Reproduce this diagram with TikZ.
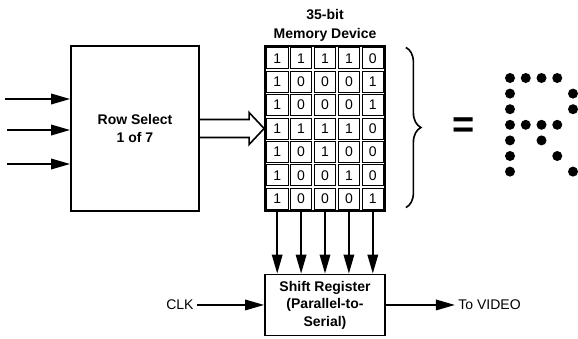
\documentclass[tikz,border=0pt]{standalone}
\usepackage{fontspec}
\setmainfont{Liberation Sans}
\usetikzlibrary{matrix,calc,positioning}
\usetikzlibrary{arrows.meta}
\usetikzlibrary{decorations.pathreplacing}

\tikzset{
	blk/.style={draw, line width=1.8pt, align=center, font=\bfseries\fontsize{14}{17.5}\selectfont},
	head/.style={align=center, font=\bfseries\fontsize{14}{19}\selectfont},
	bit/.style={draw, line width=0.9pt, minimum width=21.5pt, minimum height=21pt, inner sep=0pt, font=\fontsize{14}{14}\selectfont},
	arr/.style={-{Triangle[length=19pt,width=10.5pt]}, line width=1.8pt},
	lbl/.style={font=\fontsize{14}{17}\selectfont},
}

\begin{document}
\begin{tikzpicture}[x=1pt,y=-1pt]
\useasboundingbox (0,0) rectangle (578,338);

\node[blk, minimum width=128pt, minimum height=165pt] (rowsel) at (135,128.5) {Row Select\\1 of 7};

\matrix (mem) [matrix of nodes, nodes={bit}, column sep=1.5pt, row sep=1.5pt, draw, line width=1.8pt, inner sep=1pt] at (325,128.5)
{
	1 & 1 & 1 & 1 & 0 \\
	1 & 0 & 0 & 0 & 1 \\
	1 & 0 & 0 & 0 & 1 \\
	1 & 1 & 1 & 1 & 0 \\
	1 & 0 & 1 & 0 & 0 \\
	1 & 0 & 0 & 1 & 0 \\
	1 & 0 & 0 & 0 & 1 \\
};
\node[head, above=1pt of mem] (title) {35-bit\\Memory Device};

\node[blk, minimum width=120pt, minimum height=61pt, below=62pt of mem] (shreg) {Shift Register\\(Parallel-to-\\Serial)};
\node[lbl, left=67pt of shreg] (clk) {CLK};
\node[lbl, right=69pt of shreg] (video) {To VIDEO};

% row address lines
\foreach \y/\x in {99/5,130/7,164/7}
{
	\coordinate (in\y) at (\x,\y);
	\path[arr] (in\y) edge (in\y -| rowsel.west);
}

% wide arrow into the memory
\draw[line width=1.6pt, line join=miter]
	($(rowsel.east)+(0,-9)$) -| ($(mem.west)+(-15,-16)$) -- (mem.west)
	-- ($(mem.west)+(-15,16)$) |- ($(rowsel.east)+(0,9)$);

\foreach \j in {1,...,5}
	\path[arr] (mem-7-\j.south) edge (mem-7-\j.south |- shreg.north);
\path[arr] (clk) edge (shreg)
	(shreg) edge (video);

\draw[decorate, decoration={brace, amplitude=15pt}, line width=1.6pt]
	($(mem.north east)+(20,2)$) -- ($(mem.south east)+(20,-4)$);
\node[font=\bfseries\fontsize{38}{38}\selectfont] (eq) at (464,128) {=};

% the character as dots
\foreach \rowbits [count=\r] in {{1,1,1,1,0},{1,0,0,0,1},{1,0,0,0,1},{1,1,1,1,0},{1,0,1,0,0},{1,0,0,1,0},{1,0,0,0,1}}
	\foreach \b [count=\c] in \rowbits
	{
		\ifnum\b=1 \fill ({494.25+15.75*\c},{62.4+15.6*\r}) circle (5pt); \fi
	}
\end{tikzpicture}
\end{document}
